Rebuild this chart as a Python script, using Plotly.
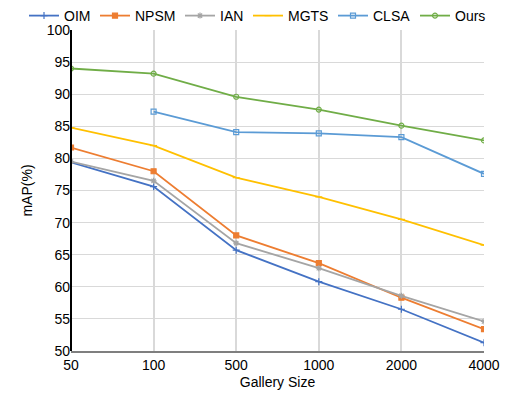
import plotly.graph_objects as go

gallery = ["50", "100", "500", "1000", "2000", "4000"]
oim = [79.4, 75.6, 65.7, 60.8, 56.5, 51.3]
npsm = [81.7, 78.0, 68.0, 63.7, 58.3, 53.4]
ian = [79.5, 76.5, 66.8, 62.9, 58.6, 54.6]
mgts = [84.8, 82.0, 77.0, 74.0, 70.5, 66.5]
clsa = [None, 87.3, 84.1, 83.9, 83.3, 77.6]
ours = [94.0, 93.2, 89.6, 87.6, 85.1, 82.8]

series = [
    ("OIM", oim, "#4472C4", "cross-thin-open"),
    ("NPSM", npsm, "#ED7D31", "square"),
    ("IAN", ian, "#A5A5A5", "asterisk-open"),
    ("MGTS", mgts, "#FFC000", "line-ew-open"),
    ("CLSA", clsa, "#5B9BD5", "square-open"),
    ("Ours", ours, "#70AD47", "circle-open"),
]

# left edge (px) of each legend entry, placed as one row like the reference
legend_left_px = [24, 95, 180, 248, 333, 415]

font = "Liberation Sans, Arial, sans-serif"
fig = go.Figure()
layout_legends = {}
for i, (name, vals, color, sym) in enumerate(series):
    key = "legend" if i == 0 else f"legend{i + 1}"
    fig.add_trace(go.Scatter(
        x=gallery, y=vals, name=name, mode="lines+markers",
        line=dict(color=color, width=1.8),
        marker=dict(symbol=sym, size=5, color=color, line=dict(color=color, width=1.2)),
        connectgaps=False, legend=key,
    ))
    layout_legends[key] = dict(
        orientation="h", xref="container", x=legend_left_px[i] / 505, xanchor="left",
        yref="container", y=1.0, yanchor="top",
        font=dict(size=14, family=font), itemwidth=30, borderwidth=0,
        bgcolor="rgba(0,0,0,0)",
    )

fig.update_layout(
    width=505, height=400,
    margin=dict(l=71, r=21, t=30, b=49, autoexpand=False),
    paper_bgcolor="white", plot_bgcolor="white",
    font=dict(family=font, size=14, color="#000000"),
    showlegend=True,
    **layout_legends,
)
fig.update_xaxes(
    type="category", range=[0, 5], automargin=False,
    showgrid=True, gridcolor="#D9D9D9", gridwidth=1.5,
    showline=True, linecolor="#7F7F7F", linewidth=1.5,
    ticks="", tickfont=dict(size=14),
    title=dict(text="Gallery Size", font=dict(size=14), standoff=6),
)
fig.update_yaxes(
    range=[50, 100], dtick=5, automargin=False,
    showgrid=True, gridcolor="#D9D9D9", gridwidth=1.2,
    zeroline=False,
    ticks="", tickfont=dict(size=14),
    title=dict(text="mAP(%)", font=dict(size=14), standoff=10),
)
fig.add_shape(type="line", xref="paper", yref="paper", x0=0, x1=0, y0=0, y1=1,
              line=dict(color="black", width=2))
fig.write_html("out.html", config={"displayModeBar": False},
               post_script="document.body.style.margin='0';")
